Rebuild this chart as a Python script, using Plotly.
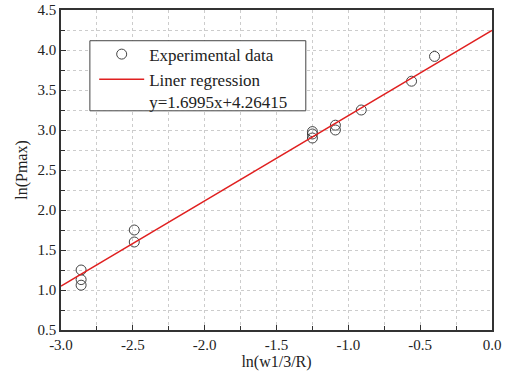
import plotly.graph_objects as go

exp_x = [-2.86, -2.86, -2.86, -2.49, -2.49, -1.25, -1.25, -1.25, -1.09, -1.09, -0.91, -0.56, -0.40]
exp_y = [1.25, 1.13, 1.06, 1.75, 1.60, 2.98, 2.95, 2.90, 3.06, 3.00, 3.25, 3.61, 3.92]

# Regression line endpoints (as drawn)
line_x = [-3.0, 0.0]
line_y = [1.05, 4.245]

eq_label = "y=1.6995x+4.26415"

x_ticks = [-3.0, -2.5, -2.0, -1.5, -1.0, -0.5, 0.0]
x_tick_text = ["-3.0", "-2.5", "-2.0", "-1.5", "-1.0", "-0.5", "0.0"]
y_ticks = [0.5, 1.0, 1.5, 2.0, 2.5, 3.0, 3.5, 4.0, 4.5]
y_tick_text = ["0.5", "1.0", "1.5", "2.0", "2.5", "3.0", "3.5", "4.0", "4.5"]

font_family = "Liberation Serif"
text_color = "#222222"

fig = go.Figure()
fig.add_trace(go.Scatter(
    x=exp_x, y=exp_y, mode="markers", name="Experimental data",
    marker=dict(symbol="circle-open", size=10, color="#444444", line=dict(width=1)),
))
fig.add_trace(go.Scatter(
    x=line_x, y=line_y, mode="lines", name="Liner regression<br>" + eq_label,
    line=dict(color="#e02020", width=1.5),
))

axis_common = dict(
    showline=True, linecolor="#333333", linewidth=1.5, mirror=True,
    ticks="inside", ticklen=5, tickcolor="#333333", tickwidth=1,
    showgrid=True, gridcolor="#cccccc", griddash="3px,3px", gridwidth=1,
    zeroline=False, automargin=False,
    tickfont=dict(family=font_family, size=15, color=text_color),
    minor=dict(dtick=0.25, ticks="inside", ticklen=4, tickcolor="#333333",
               showgrid=True, gridcolor="#cccccc", griddash="3px,3px", gridwidth=1),
)

# legend frame (drawn as a shape behind a transparent legend)
fig.add_shape(type="rect", xref="paper", yref="paper",
              x0=0.067, x1=0.568, y0=0.685, y1=0.904,
              fillcolor="white", line=dict(color="#444444", width=1), layer="above")

fig.update_layout(
    width=507, height=382,
    margin=dict(l=61, r=15, t=10, b=52, autoexpand=False),
    paper_bgcolor="white", plot_bgcolor="white",
    showlegend=True,
    legend=dict(
        x=0.077, y=0.917, xanchor="left", yanchor="top",
        bgcolor="rgba(0,0,0,0)", borderwidth=0,
        font=dict(family=font_family, size=17, color=text_color),
        tracegroupgap=0, itemwidth=45, valign="top",
    ),
    xaxis=dict(range=[-3.0, 0.0], tickvals=x_ticks, ticktext=x_tick_text,
               title=dict(text="ln(w1/3/R)", font=dict(family=font_family, size=16, color=text_color), standoff=3),
               **axis_common),
    yaxis=dict(range=[0.5, 4.5], tickvals=y_ticks, ticktext=y_tick_text,
               title=dict(text="ln(Pmax)", font=dict(family=font_family, size=16, color=text_color), standoff=6),
               **axis_common),
)

fig.write_html("out.html")
